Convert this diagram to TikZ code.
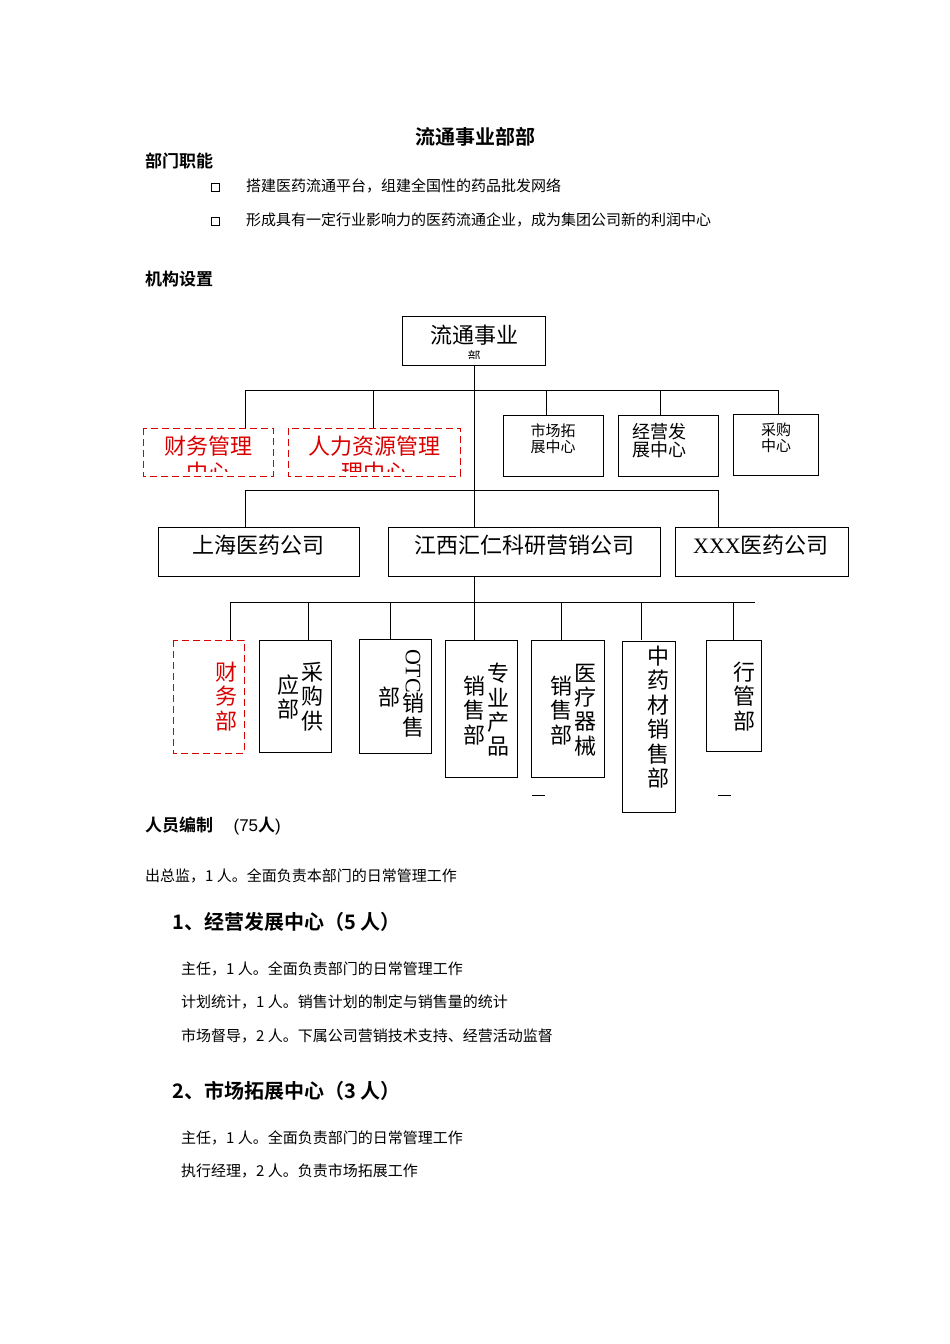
\documentclass[tikz,border=0pt]{standalone}
\usepackage{fontspec}
\setmainfont{Liberation Serif}
\newfontfamily\cjk{Noto Sans CJK SC}
\newfontfamily\cjkb{Noto Sans CJK SC Bold}
\begin{document}
\begin{tikzpicture}[x=1pt,y=-1pt,
  box/.style={draw,line width=1pt},
  rbox/.style={draw=red!85!black,dash pattern=on 7pt off 4pt,line width=1pt},
  ln/.style={line width=1pt},
  t/.style={inner sep=0pt,anchor=west,font=\cjk\fontsize{15}{15}\selectfont},
  hb/.style={inner sep=0pt,anchor=west,font=\cjkb\fontsize{17}{17}\selectfont},
  sq/.style={draw,line width=0.7pt,minimum size=8pt,inner sep=0pt},
  vc/.style={inner sep=0pt,font=\cjk\fontsize{22}{22}\selectfont}]
\newcommand{\vstack}[4]{\foreach \c [count=\i] in {#3} {\node[vc,#4] at (#1,#2+24.5*\i-24.5) {\c};}}
\useasboundingbox (0,0) rectangle (950,1344);
\node[inner sep=0pt,font=\cjkb\fontsize{20}{20}\selectfont] (title) at (475,137) {流通事业部部};
\node[hb] (h1) at (145,161) {部门职能};
\node[sq] (b1) at (215,187) {};
\node[t] (l1) at (246,186) {搭建医药流通平台，组建全国性的药品批发网络};
\node[sq] (b2) at (215,221) {};
\node[t] (l2) at (246,220) {形成具有一定行业影响力的医药流通企业，成为集团公司新的利润中心};
\node[hb] (h2) at (145,279) {机构设置};
% top
\draw[box] (402,316) rectangle (545,365);
\node[vc] (top) at (474,335) {流通事业};
\begin{scope}\clip (402,316) rectangle (545,358);
\node[inner sep=0pt,font=\cjk\fontsize{13}{13}\selectfont] at (474,357) {部};
\end{scope}
\coordinate (topb) at (474,365);
\draw[ln] (topb) -- (474,527);
\draw[ln] (245,390) -- (778,390);
\draw[ln] (245,390) -- (245,428) (373,390) -- (373,428) (546,390) -- (546,415) (660,390) -- (660,415) (778,390) -- (778,414);
\draw[rbox] (143,428) rectangle (273,476);
\draw[rbox] (288,428) rectangle (460,476);
\begin{scope}[red!85!black]\clip (140,425) rectangle (470,471);
\node[vc] (fin) at (208,446) {财务管理};
\node[vc] at (208,472) {中心};
\node[vc] (hr) at (374,446) {人力资源管理};
\node[vc] at (374,472) {理中心};
\end{scope}
\draw[box] (503,415) rectangle (603,476);
\node[inner sep=0pt,align=left,font=\cjk\fontsize{15}{16}\selectfont] (mk) at (553,439) {市场拓\\展中心};
\draw[box] (618,415) rectangle (718,476);
\node[inner sep=0pt,align=left,font=\cjk\fontsize{18}{18}\selectfont] (jy) at (659,441) {经营发\\展中心};
\draw[box] (733,414) rectangle (818,475);
\node[inner sep=0pt,align=center,font=\cjk\fontsize{15}{16}\selectfont] (cg) at (776,438) {采购\\中心};
% second
\draw[ln] (245,490) -- (718,490) (245,490) -- (245,527) (718,490) -- (718,527);
\draw[box] (158,527) rectangle (359,576);
\node[vc] (sh) at (258,545) {上海医药公司};
\draw[box] (388,527) rectangle (660,576);
\node[vc] (jx) at (524,545) {江西汇仁科研营销公司};
\draw[box] (675,527) rectangle (848,576);
\node[vc] (xx) at (761,545) {\fontspec{Liberation Serif}XXX\cjk 医药公司};
% third
\draw[ln] (474,576) -- (474,640);
\draw[ln] (230,602) -- (755,602);
\foreach \x in {230,308,390,561,641,733} \draw[ln] (\x,602) -- (\x,640);
\draw[rbox] (173,640) rectangle (244,753);
\begin{scope}[red!85!black]\vstack{226}{672}{财,务,部}{}\end{scope}
\draw[box] (259,640) rectangle (331,752);
\vstack{312}{672}{采,购,供}{} \vstack{288}{685}{应,部}{}
\draw[box] (359,639) rectangle (431,753);
\node[inner sep=0pt,rotate=-90,font=\fontsize{22}{22}\selectfont] (otc) at (413,671) {OTC};
\vstack{413}{703}{销,售}{} \vstack{389}{697}{部}{}
\draw[box] (445,640) rectangle (517,777);
\vstack{498}{673}{专,业,产,品}{} \vstack{474}{686}{销,售,部}{}
\draw[box] (531,640) rectangle (604,777);
\vstack{585}{673}{医,疗,器,械}{} \vstack{561}{686}{销,售,部}{}
\draw[box] (622,641) rectangle (675,812);
\vstack{658}{656}{中,药,材,销,售,部}{}
\draw[box] (706,640) rectangle (761,751);
\vstack{744}{672}{行,管,部}{}
\draw[line width=1pt] (532,795) -- (545,795) (718,795) -- (731,795);
% text below
\node[hb] (h3) at (145,826) {人员编制\hspace{1.2em}\fontspec{Liberation Sans}(75\cjkb 人\fontspec{Liberation Sans})};
\node[t] (p0) at (145,876) {出总监，1 人。全面负责本部门的日常管理工作};
\node[hb,font=\cjkb\fontsize{20}{20}\selectfont] (s1) at (172,922) {1、经营发展中心（5 人）};
\node[t] (p1) at (181,969) {主任，1 人。全面负责部门的日常管理工作};
\node[t] (p2) at (181,1002) {计划统计，1 人。销售计划的制定与销售量的统计};
\node[t] (p3) at (181,1036) {市场督导，2 人。下属公司营销技术支持、经营活动监督};
\node[hb,font=\cjkb\fontsize{20}{20}\selectfont] (s2) at (172,1091) {2、市场拓展中心（3 人）};
\node[t] (p4) at (181,1138) {主任，1 人。全面负责部门的日常管理工作};
\node[t] (p5) at (181,1171) {执行经理，2 人。负责市场拓展工作};
\end{tikzpicture}
\end{document}
